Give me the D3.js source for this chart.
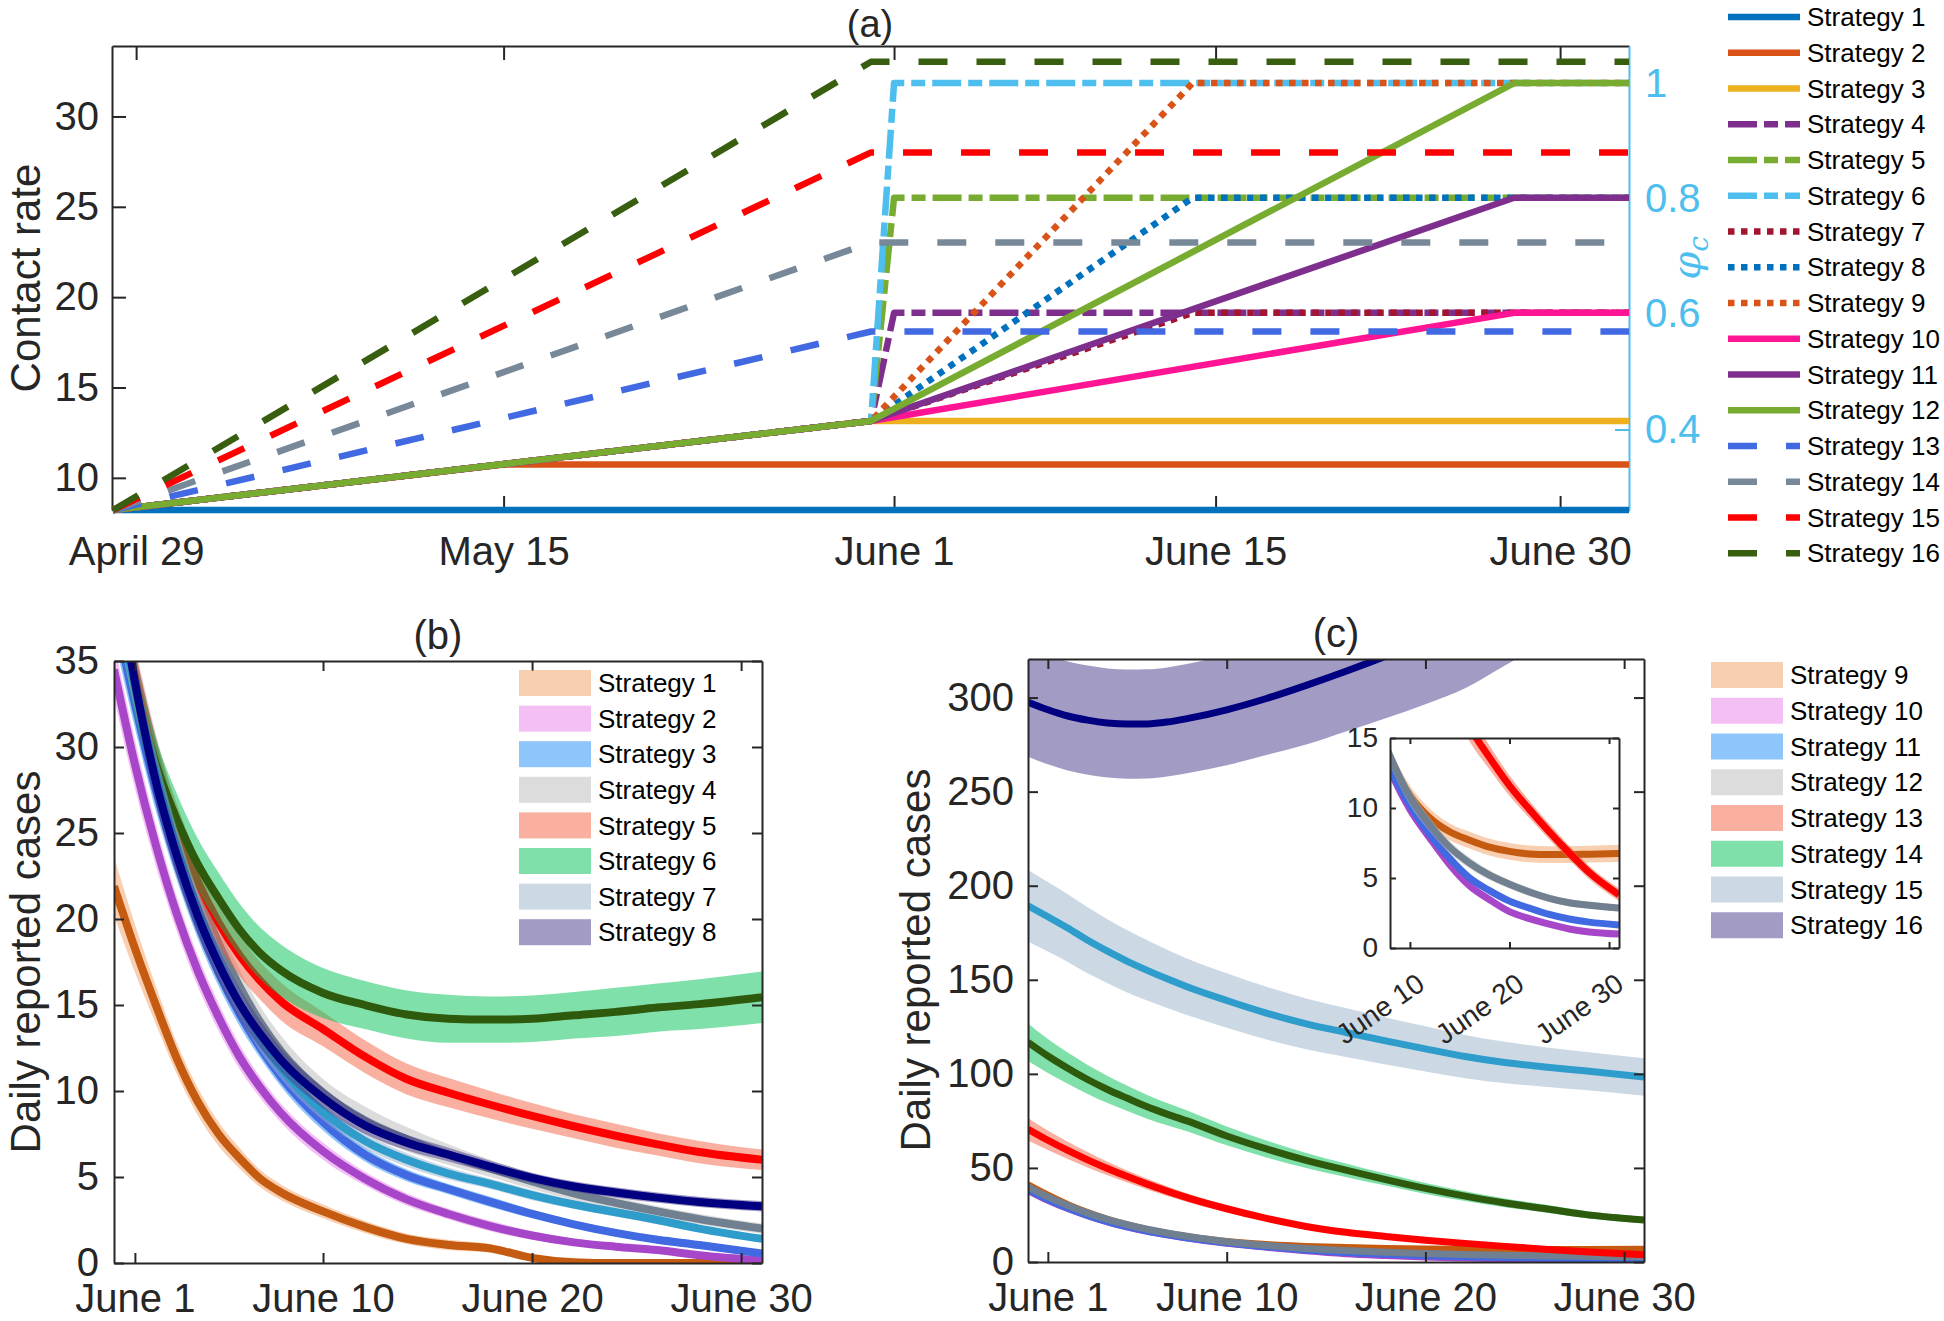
<!DOCTYPE html>
<html><head><meta charset="utf-8">
<script src="https://cdn.jsdelivr.net/npm/d3@7"></script>
<style>body{margin:0;background:#fff}svg{display:block}</style>
</head><body><svg id="chart" width="1944" height="1321"></svg>
<script>
// ---------------- DATA ----------------
// Panel (a): day index from April 29 (= 0)
const aNames = ["Strategy 1","Strategy 2","Strategy 3","Strategy 4","Strategy 5","Strategy 6","Strategy 7","Strategy 8","Strategy 9","Strategy 10","Strategy 11","Strategy 12","Strategy 13","Strategy 14","Strategy 15","Strategy 16"];
const aColors = ["#0072BD","#D95319","#EDB120","#7E2F8E","#77AC30","#4DBEEE","#A2142F","#0072BD","#D95319","#FF1493","#7E2F8E","#77AC30","#4169E1","#778899","#FF0000","#385E0F"];
const aStyles = ["solid","solid","solid","dashdot","dashdot","dashdot","dot","dot","dot","solid","solid","solid","dash","dash","dash","dash"];
const aDays = [
  [-1,65],[-1,16,65],[-1,32,65],
  [-1,32,33,65],[-1,32,33,65],[-1,32,33,65],
  [-1,32,46,65],[-1,32,46,65],[-1,32,46,65],
  [-1,32,60,65],[-1,32,60,65],[-1,32,60,65],
  [-1,32,65],[-1,32,65],[-1,32,65],[-1,32,65]
];
const aRates = [
  [8.22,8.22],[8.22,10.74,10.74],[8.22,13.15,13.15],
  [8.22,13.15,19.13,19.13],[8.22,13.15,25.5,25.5],[8.22,13.15,31.85,31.85],
  [8.22,13.15,19.13,19.13],[8.22,13.15,25.5,25.5],[8.22,13.15,31.85,31.85],
  [8.22,13.15,19.13,19.13],[8.22,13.15,25.5,25.5],[8.22,13.15,31.85,31.85],
  [8.22,18.1,18.1],[8.22,23.03,23.03],[8.22,28.01,28.01],[8.22,33.03,33.03]
];
const aTickDays = [0,16,33,47,62];
const aTickLabels = ["April 29","May 15","June 1","June 15","June 30"];
const aLeftTicks = [10,15,20,25,30];
const aRightTicks = [0.4,0.6,0.8,1];

// Panels (b),(c): day = date in June (May 31 = 0)
const days = [0,1,2,3,4,5,6,7,8,10,12,14,16,18,20,22,24,26,28,31];
const bTickDays = [1,10,20,30];
const bTickLabels = ["June 1","June 10","June 20","June 30"];
const insetTickDays = [10,20,30];
const insetTickLabels = ["June 10","June 20","June 30"];

const bMean = [
  [21.9,18.3,15.0,11.9,9.4,7.5,6.1,4.9,4.1,3.0,2.1,1.4,1.05,0.85,0.3,0.05,0,0,0,0],
  [34.5,29.0,24.3,20.3,17.0,14.3,12.0,10.2,8.7,6.5,4.9,3.7,2.85,2.15,1.6,1.2,0.95,0.75,0.45,0.15],
  [38,32.5,27.5,23.3,19.8,16.9,14.5,12.5,10.8,8.2,6.3,5.1,4.3,3.55,2.85,2.25,1.75,1.35,1.05,0.55],
  [40,34.5,29.5,25.2,21.6,18.6,16.1,14.0,12.3,9.9,8.3,7.2,6.3,5.5,4.75,4.05,3.5,3.0,2.55,2.0],
  [40,34,29,25.2,22.2,19.8,17.9,16.4,15.2,13.6,12.0,10.7,9.9,9.2,8.55,7.95,7.4,6.9,6.45,6.0],
  [40,33.5,29,25.8,23.2,21.2,19.4,18.0,17.0,15.7,15.0,14.45,14.2,14.15,14.2,14.4,14.6,14.85,15.05,15.45],
  [39,33.5,28.5,24.2,20.6,17.6,15.1,13.0,11.3,8.8,7.1,6.0,5.2,4.6,3.95,3.4,2.95,2.5,2.0,1.4],
  [41,33.8,28.0,23.7,20.2,17.4,15.1,13.3,11.8,9.6,8.0,7.0,6.3,5.6,4.95,4.45,4.1,3.8,3.55,3.3]
];
const bHalf = [
  [1.7,1.4,1.1,0.9,0.8,0.7,0.6,0.5,0.45,0.4,0.35,0.3,0.3,0.25,0.2,0.15,0.1,0.1,0.1,0.1],
  [1.6,1.4,1.2,1.0,0.9,0.8,0.7,0.6,0.55,0.5,0.4,0.35,0.3,0.3,0.25,0.2,0.2,0.15,0.15,0.15],
  [1.6,1.4,1.2,1.0,0.9,0.8,0.7,0.6,0.55,0.5,0.4,0.35,0.3,0.3,0.25,0.2,0.2,0.2,0.2,0.2],
  [1.5,1.4,1.3,1.2,1.1,1.0,1.0,0.9,0.9,0.8,0.8,0.7,0.6,0.5,0.45,0.4,0.35,0.3,0.3,0.3],
  [1.8,1.7,1.6,1.5,1.4,1.3,1.2,1.1,1.1,1.0,0.95,0.9,0.85,0.8,0.75,0.7,0.7,0.65,0.65,0.6],
  [1.6,1.6,1.5,1.5,1.5,1.5,1.5,1.5,1.5,1.45,1.4,1.4,1.4,1.35,1.35,1.35,1.4,1.4,1.45,1.5],
  [1.4,1.3,1.2,1.1,1.0,0.9,0.8,0.7,0.6,0.5,0.45,0.4,0.35,0.3,0.3,0.25,0.25,0.25,0.2,0.2],
  [1.5,1.4,1.3,1.2,1.1,1.0,0.9,0.8,0.7,0.6,0.5,0.45,0.4,0.35,0.3,0.3,0.3,0.3,0.3,0.3]
];
const cMean = [
  [41,35.5,30.5,26.3,22.7,19.7,17.2,15.2,13.5,10.9,9.3,8.3,7.7,7.2,6.9,6.72,6.67,6.67,6.7,6.75],
  [38,32.8,28.4,24.6,21.3,18.6,16.3,14.4,12.7,9.9,7.85,5.95,4.44,3.45,2.6,2.1,1.7,1.36,1.15,1.0],
  [38.5,33.2,28.7,24.8,21.5,18.8,16.5,14.6,12.85,10.2,8.1,6.4,5.0,4.1,3.35,2.85,2.4,2.07,1.85,1.65],
  [40,34.6,30,26,22.6,19.8,17.4,15.4,13.7,10.8,8.8,7.2,6.07,5.2,4.55,4.0,3.55,3.23,3.05,2.85],
  [70.6,64.7,59.3,54.3,49.7,45.4,41.4,37.7,34.2,28.3,23.2,18.9,15.8,13.6,11.6,9.9,8.3,6.8,5.4,3.8],
  [116.8,109.5,103,97,91.7,87,82.5,78.6,75,67,60.1,54,48.8,43.8,39.1,35,31.4,28.4,25.3,22.3],
  [189.3,183.5,177.5,171,165.2,159.8,155,150.5,146.3,139,132.3,126.6,122,117.5,113.3,109.2,106,103.7,101.6,98.3],
  [297.5,293.5,290.2,288,286.5,285.9,286,287,288.8,293.5,299.5,306.5,314,322,330.5,339.5,349,359,null,null]
];
const cHalf = [
  [2,1.8,1.6,1.4,1.2,1.1,1.0,0.9,0.8,0.7,0.65,0.6,0.6,0.6,0.6,0.6,0.6,0.6,0.6,0.6],
  [1.6,1.4,1.2,1.0,0.9,0.8,0.7,0.6,0.5,0.4,0.35,0.3,0.25,0.2,0.2,0.2,0.15,0.15,0.15,0.15],
  [1.6,1.4,1.2,1.0,0.9,0.8,0.7,0.6,0.5,0.4,0.35,0.3,0.25,0.2,0.2,0.2,0.15,0.15,0.15,0.15],
  [1.8,1.6,1.4,1.2,1.1,1.0,0.9,0.8,0.7,0.6,0.5,0.45,0.4,0.35,0.3,0.3,0.25,0.25,0.25,0.25],
  [6,5.2,4.6,4.1,3.6,3.2,2.9,2.6,2.3,1.9,1.6,1.3,1.05,0.85,0.72,0.62,0.55,0.5,0.47,0.45],
  [10,9,8.3,7.7,7.2,6.7,6.3,5.9,5.5,5,4.5,4,3.6,3.2,2.9,2.6,2.3,2.1,1.9,1.7],
  [19,18.5,18,17.5,17,16.5,16,15.5,15,14.5,14,13.5,13,12.5,12,11.5,11,10.5,10.2,10],
  [29,29,29,29,29,29,29,29,29,29.5,30,31.5,32,33,34,34.5,32,30,null,null]
];
const bNames = ["Strategy 1","Strategy 2","Strategy 3","Strategy 4","Strategy 5","Strategy 6","Strategy 7","Strategy 8"];
const cNames = ["Strategy 9","Strategy 10","Strategy 11","Strategy 12","Strategy 13","Strategy 14","Strategy 15","Strategy 16"];
const lineColors = ["#C55A11","#A846C9","#4169E1","#708090","#FF0000","#2E5A0E","#2F9DCC","#000080"];
const bandColors = ["#F19F61","#E97FE9","#1D8BF7","#B9B9B9","#F36141","#01C155","#99B3CB","#453989"];

// ---------------- DRAWING ----------------
const FONT = "'Liberation Sans', Arial, Helvetica, sans-serif";
const AXC = "#262626";
const svg = d3.select("#chart");
const dashes = {solid:null, dashdot:"29,7,14,7", dot:"6.5,6.5", dash:"29,29"};

function styleAxis(g, fs, color){
  color = color || AXC;
  g.attr("font-family", FONT).attr("font-size", fs);
  g.selectAll("path.domain").attr("stroke", color).attr("stroke-width", 2);
  g.selectAll(".tick line").attr("stroke", color).attr("stroke-width", 2);
  g.selectAll(".tick text").attr("fill", color);
  return g;
}
function txt(x, y, s, fs, opts){
  opts = opts || {};
  const t = svg.append("text").attr("x", x).attr("y", y).text(s)
    .attr("font-family", opts.family || FONT).attr("font-size", fs)
    .attr("fill", opts.fill || AXC).attr("text-anchor", opts.anchor || "middle");
  if (opts.rotate) t.attr("transform", `rotate(${opts.rotate},${x},${y})`);
  if (opts.dy) t.attr("dy", opts.dy);
  return t;
}

// ===== Panel (a) =====
const A = {l:112, r:1629, t:46, b:510};
const xA = d3.scaleLinear([-1.05, 65], [A.l, A.r]);
const yA = d3.scaleLinear([8.22, 33.9], [A.b, A.t]);
const yA2 = d3.scaleLinear([0.2605, 1.0647], [A.b, A.t]);

styleAxis(svg.append("g").attr("transform", `translate(0,${A.b})`)
  .call(d3.axisBottom(xA).tickValues(aTickDays).tickFormat((d,i)=>aTickLabels[i]).tickSizeInner(-14).tickSizeOuter(0).tickPadding(26.6)), 40);
styleAxis(svg.append("g").attr("transform", `translate(0,${A.t})`)
  .call(d3.axisTop(xA).tickValues(aTickDays).tickFormat("").tickSizeInner(-14).tickSizeOuter(0)), 40);
styleAxis(svg.append("g").attr("transform", `translate(${A.l},0)`)
  .call(d3.axisLeft(yA).tickValues(aLeftTicks).tickSizeInner(-14).tickSizeOuter(0).tickPadding(13)), 40);
styleAxis(svg.append("g").attr("transform", `translate(${A.r},0)`)
  .call(d3.axisRight(yA2).tickValues(aRightTicks).tickFormat(d => d === 1 ? "1" : d3.format(".1f")(d)).tickSizeInner(-14).tickSizeOuter(0).tickPadding(16)), 40, "#4DBEEE");

const lineA = d3.line().x(d => xA(d[0])).y(d => yA(d[1]));
aDays.forEach((ds, i) => {
  const pts = ds.map((d, k) => [d, aRates[i][k]]);
  svg.append("path").attr("d", lineA(pts)).attr("fill", "none")
    .attr("stroke", aColors[i]).attr("stroke-width", 6.5)
    .attr("stroke-dasharray", dashes[aStyles[i]]).attr("stroke-linejoin", "round");
});
txt(870, 37, "(a)", 38);
txt(40, 278, "Contact rate", 42, {rotate:-90});
const phi = svg.append("text").attr("x", 1700).attr("y", 258)
  .attr("transform", "rotate(-90,1700,258)").attr("text-anchor", "middle")
  .attr("font-family", "'DejaVu Serif', serif").attr("font-style", "italic")
  .attr("font-size", 40).attr("fill", "#4DBEEE");
phi.append("tspan").text("φ");
phi.append("tspan").text("c").attr("font-size", 28).attr("dy", 8);

// legend (a)
aNames.forEach((n, i) => {
  const y = 17 + 35.75 * i;
  svg.append("line").attr("x1", 1728).attr("x2", 1800).attr("y1", y).attr("y2", y)
    .attr("stroke", aColors[i]).attr("stroke-width", 6.5).attr("stroke-dasharray", dashes[aStyles[i]]);
  txt(1807, y, n, 26, {anchor:"start", dy:"0.35em", fill:"#000"});
});

// ===== helpers for (b),(c) =====
function series(mean, half){
  return days.map((d, k) => ({day:d, m:mean[k], h:half[k]})).filter(r => r.m != null && r.h != null);
}
function drawBands(g, x, y, means, halfs, lw){
  const area = d3.area().x(d => x(d.day)).y0(d => y(d.m - d.h)).y1(d => y(d.m + d.h)).curve(d3.curveMonotoneX);
  const line = d3.line().x(d => x(d.day)).y(d => y(d.m)).curve(d3.curveMonotoneX);
  means.forEach((m, i) => {
    const s = series(m, halfs[i]);
    g.append("path").attr("d", area(s)).attr("fill", bandColors[i]).attr("fill-opacity", 0.5).attr("stroke", "none");
    g.append("path").attr("d", line(s)).attr("fill", "none").attr("stroke", lineColors[i]).attr("stroke-width", lw).attr("stroke-linejoin", "round");
  });
}
function boxAxes(P, x, y, yTicks, tickLen, fs, padL, padB, bottomTicks, bottomLabels){
  const gb = styleAxis(svg.append("g").attr("transform", `translate(0,${P.b})`)
    .call(d3.axisBottom(x).tickValues(bottomTicks).tickFormat(bottomLabels ? ((d,i)=>bottomLabels[i]) : "").tickSizeInner(-tickLen).tickSizeOuter(0).tickPadding(padB)), fs);
  styleAxis(svg.append("g").attr("transform", `translate(0,${P.t})`)
    .call(d3.axisTop(x).tickValues(bottomTicks).tickFormat("").tickSizeInner(-tickLen).tickSizeOuter(0)), fs);
  styleAxis(svg.append("g").attr("transform", `translate(${P.l},0)`)
    .call(d3.axisLeft(y).tickValues(yTicks).tickSizeInner(-tickLen).tickSizeOuter(0).tickPadding(padL)), fs);
  styleAxis(svg.append("g").attr("transform", `translate(${P.r},0)`)
    .call(d3.axisRight(y).tickValues(yTicks).tickFormat("").tickSizeInner(-tickLen).tickSizeOuter(0)), fs);
  return gb;
}
function legendPatches(x0, y0, step, names){
  names.forEach((n, i) => {
    const y = y0 + step * i;
    svg.append("rect").attr("x", x0).attr("y", y - 13).attr("width", 72).attr("height", 26)
      .attr("fill", bandColors[i]).attr("fill-opacity", 0.5);
    txt(x0 + 79, y, n, 26, {anchor:"start", dy:"0.35em", fill:"#000"});
  });
}
const defs = svg.append("defs");
function clip(id, P){
  defs.append("clipPath").attr("id", id).append("rect")
    .attr("x", P.l).attr("y", P.t).attr("width", P.r - P.l).attr("height", P.b - P.t);
  return svg.append("g").attr("clip-path", `url(#${id})`);
}

// ===== Panel (b) =====
const B = {l:114, r:762, t:661, b:1263};
const xB = d3.scaleLinear([0, 31], [B.l, B.r]);
const yB = d3.scaleLinear([0, 35], [B.b, B.t]);
drawBands(clip("clipB", B), xB, yB, bMean, bHalf, 8);
boxAxes(B, xB, yB, d3.range(0, 36, 5), 10, 40, 15, 20.6, bTickDays, bTickLabels);
txt(438, 649, "(b)", 40);
txt(40, 962, "Daily reported cases", 42, {rotate:-90});
legendPatches(519, 683, 35.6, bNames);

// ===== Panel (c) =====
const C = {l:1028, r:1644, t:659, b:1262};
const xC = d3.scaleLinear([0, 31], [C.l, C.r]);
const yC = d3.scaleLinear([0, 320.5], [C.b, C.t]);
drawBands(clip("clipC", C), xC, yC, cMean, cHalf, 7);
boxAxes(C, xC, yC, d3.range(0, 301, 50), 10, 40, 14, 20.6, bTickDays, bTickLabels);
txt(1336, 647, "(c)", 40);
txt(930, 960, "Daily reported cases", 42, {rotate:-90});
legendPatches(1711, 675, 35.75, cNames);

// ===== Inset =====
const I = {l:1390, r:1619, t:738, b:948};
const xI = d3.scaleLinear([8, 31], [I.l, I.r]);
const yI = d3.scaleLinear([0, 15], [I.b, I.t]);
svg.append("rect").attr("x", I.l).attr("y", I.t).attr("width", I.r - I.l).attr("height", I.b - I.t).attr("fill", "#fff");
drawBands(clip("clipI", I), xI, yI, cMean, cHalf, 7);
const gInsetBottom = boxAxes(I, xI, yI, [0,5,10,15], 6, 28, 12, 0, insetTickDays, insetTickLabels);
gInsetBottom.selectAll(".tick text").attr("y", 0).attr("dy", 0).attr("text-anchor", "end")
  .attr("transform", "translate(16,40) rotate(-35)");
</script></body></html>
